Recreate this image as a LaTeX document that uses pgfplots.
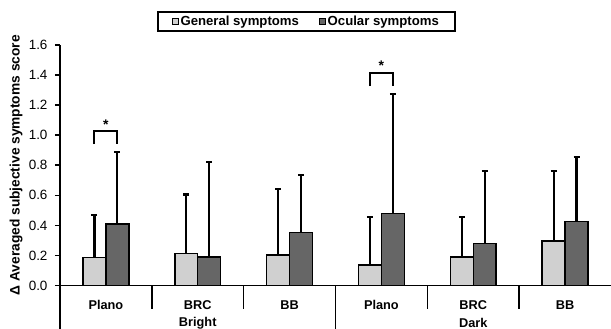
\documentclass[border=0pt]{standalone}
\usepackage{pgfplots}
\pgfplotsset{compat=1.18}
\usepackage{fontspec}
\setmainfont{Liberation Sans}
\definecolor{gen}{RGB}{208,208,208}
\definecolor{ocu}{RGB}{102,102,102}
\begin{document}
\begin{tikzpicture}[font=\fontsize{12.5}{14}\selectfont]
\begin{axis}[
  scale only axis, width=551bp, height=240.5bp,
  xmin=-0.5, xmax=5.5, ymin=0, ymax=1.6,
  clip=false,
  axis x line=bottom, axis y line=left,
  axis line style={-, line width=1.6bp, black},
  ybar, bar width=0.25,
  xtick={0,1,2,3,4,5},
  xticklabels={Plano,BRC,BB,Plano,BRC,BB},
  xtick style={draw=none},
  xticklabel style={font=\bfseries\fontsize{12.8}{14}\selectfont, anchor=center, yshift=-14.5bp},
  ytick={0,0.2,0.4,0.6,0.8,1.0,1.2,1.4,1.6},
  yticklabels={0.0,0.2,0.4,0.6,0.8,1.0,1.2,1.4,1.6},
  ytick style={line width=1.6bp, black},
  tick align=outside, major tick length=5bp,
  yticklabel style={font=\fontsize{13.5}{15}\selectfont, anchor=east, xshift=-4bp},
  ylabel={Δ Averaged subjective symptoms score},
  ylabel style={font=\bfseries\fontsize{13.8}{15}\selectfont, at={(axis description cs:-0.0799,0.5)}, anchor=center},
  error bars/y dir=plus, error bars/y explicit,
  error bars/error bar style={line width=2.2bp, black},
  error bars/error mark options={rotate=90, mark size=3bp, line width=2.2bp, black},
  legend columns=2,
  legend style={at={(axis description cs:0.447,1)}, anchor=south, yshift=13bp,
    draw=black, line width=1.8bp, font=\bfseries\fontsize{13.2}{15}\selectfont,
    inner xsep=14bp, inner ysep=2bp,
    /tikz/every even column/.append style={column sep=18bp}},
  legend image code/.code={\draw[#1, line width=0.8bp] (0bp,-3bp) rectangle (6bp,3bp);},
]
\addplot[fill=gen, draw=black, line width=1.5bp, bar shift=-0.125]
  coordinates {(0,0.186) +- (0,0.281) (1,0.212) +- (0,0.394) (2,0.204) +- (0,0.436)
               (3,0.135) +- (0,0.319) (4,0.190) +- (0,0.264) (5,0.297) +- (0,0.467)};
\addplot[fill=ocu, draw=black, line width=1.5bp, bar shift=0.125]
  coordinates {(0,0.410) +- (0,0.480) (1,0.190) +- (0,0.633) (2,0.352) +- (0,0.383)
               (3,0.478) +- (0,0.795) (4,0.281) +- (0,0.483) (5,0.427) +- (0,0.430)};
\legend{General symptoms, Ocular symptoms}
% category dividers
\draw[line width=1.6bp] (axis cs:0.5,0) -- (axis cs:0.5,-0.156);
\draw[line width=1.6bp] (axis cs:1.5,0) -- (axis cs:1.5,-0.156);
\draw[line width=1.6bp] (axis cs:3.5,0) -- (axis cs:3.5,-0.156);
\draw[line width=1.6bp] (axis cs:4.5,0) -- (axis cs:4.5,-0.156);
\draw[line width=1.6bp] (axis cs:-0.5,0) -- (axis cs:-0.5,-0.29);
\draw[line width=1.6bp] (axis cs:2.5,0) -- (axis cs:2.5,-0.29);
\node[font=\bfseries\fontsize{12.8}{14}\selectfont] at (axis cs:1,-0.25) {Bright};
\node[font=\bfseries\fontsize{12.8}{14}\selectfont] at (axis cs:4,-0.25) {Dark};
% significance brackets
\draw[line width=2bp] (axis cs:-0.125,0.941) -- (axis cs:-0.125,1.028) -- (axis cs:0.125,1.028) -- (axis cs:0.125,0.941);
\node[font=\bfseries\fontsize{14}{16}\selectfont, anchor=base] at (axis cs:0,1.04) {*};
\draw[line width=2bp] (axis cs:2.875,1.327) -- (axis cs:2.875,1.412) -- (axis cs:3.125,1.412) -- (axis cs:3.125,1.327);
\node[font=\bfseries\fontsize{14}{16}\selectfont, anchor=base] at (axis cs:3,1.428) {*};
\end{axis}
\pgfresetboundingbox
\path[use as bounding box] (current axis.south west) ++(-60bp,-43.5bp) rectangle ++(611bp,329bp);
\end{tikzpicture}
\end{document}
